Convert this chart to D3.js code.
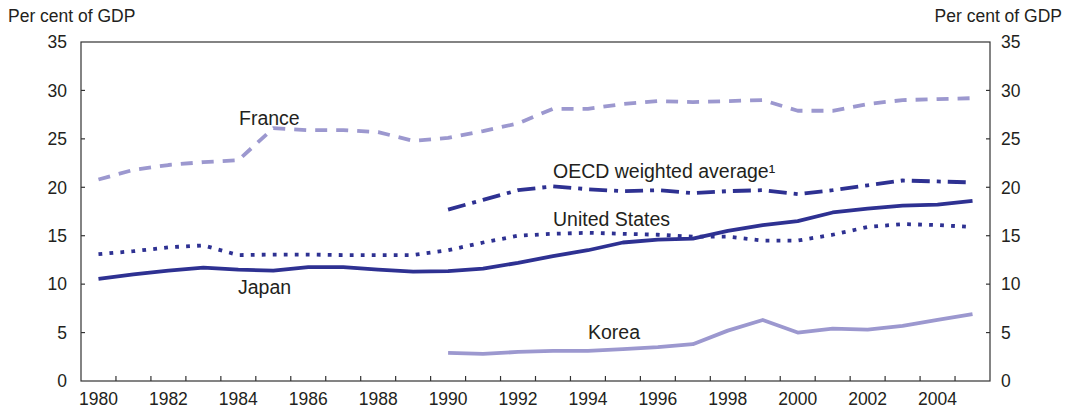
<!DOCTYPE html>
<html>
<head>
<meta charset="utf-8">
<script src="https://cdn.jsdelivr.net/npm/d3@7"></script>
<style>
  html, body { margin: 0; padding: 0; background: #fff; }
  svg { display: block; font-family: "Liberation Sans", Arial, Helvetica, sans-serif; }
</style>
</head>
<body>
<svg id="chart" width="1066" height="409"></svg>
<script>
const years = d3.range(1980, 2006);
const yTicks = [0, 5, 10, 15, 20, 25, 30, 35];
const xTickLabels = ["1980","1982","1984","1986","1988","1990","1992","1994","1996","1998","2000","2002","2004"];

const france = [20.8,21.8,22.3,22.6,22.8,26.1,25.9,25.9,25.7,24.8,25.1,25.8,26.6,28.1,28.1,28.6,28.9,28.8,28.9,29.0,27.9,27.9,28.6,29.0,29.1,29.2];
const japan  = [10.55,11.0,11.4,11.7,11.5,11.4,11.75,11.75,11.5,11.3,11.35,11.6,12.2,12.9,13.5,14.3,14.6,14.7,15.5,16.1,16.5,17.4,17.8,18.1,18.2,18.6];
const unitedStates = [13.1,13.4,13.8,14.0,13.0,13.05,13.05,13.0,13.0,13.0,13.5,14.3,15.0,15.2,15.3,15.2,15.1,14.9,14.9,14.5,14.5,15.1,15.9,16.2,16.1,15.9];
const oecdYears = d3.range(1990, 2006);
const oecd = [17.7,18.7,19.7,20.1,19.8,19.6,19.7,19.4,19.6,19.7,19.3,19.7,20.2,20.7,20.6,20.5];
const koreaYears = d3.range(1990, 2006);
const korea = [2.9,2.8,3.0,3.1,3.1,3.3,3.5,3.8,5.2,6.3,5.0,5.4,5.3,5.7,6.3,6.9];

const DARK = "#2e3192", LIGHT = "#9c98cf", TEXT = "#231f20", AXIS = "#333";

const svg = d3.select("#chart");
const L = 81, R = 990, T = 42, B = 381;

const x = d3.scaleBand().domain(years).range([L, R]).padding(0);
const y = d3.scaleLinear().domain([0, 35]).range([B, T]);
const cx = yr => x(yr) + x.bandwidth() / 2;

// frame
svg.append("rect").attr("x", L).attr("y", T).attr("width", R - L).attr("height", B - T)
  .attr("fill", "none").attr("stroke", AXIS).attr("stroke-width", 1.2);

// x ticks at band boundaries (inward)
years.slice(1).forEach(yr => {
  svg.append("line").attr("x1", x(yr)).attr("x2", x(yr)).attr("y1", B).attr("y2", B - 5)
    .attr("stroke", AXIS).attr("stroke-width", 1.2);
});
// y ticks inward both sides
yTicks.filter(v => v > 0 && v < 35).forEach(v => {
  svg.append("line").attr("x1", L).attr("x2", L + 4).attr("y1", y(v)).attr("y2", y(v))
    .attr("stroke", AXIS).attr("stroke-width", 1.2);
  svg.append("line").attr("x1", R).attr("x2", R - 4).attr("y1", y(v)).attr("y2", y(v))
    .attr("stroke", AXIS).attr("stroke-width", 1.2);
});

// y labels
yTicks.forEach(v => {
  svg.append("text").attr("x", 67).attr("y", y(v)).attr("dy", "0.36em")
    .attr("text-anchor", "end").attr("font-size", 17.5).attr("fill", TEXT).text(v);
  svg.append("text").attr("x", 1001).attr("y", y(v)).attr("dy", "0.36em")
    .attr("text-anchor", "start").attr("font-size", 17.5).attr("fill", TEXT).text(v);
});
// x labels
xTickLabels.forEach(lbl => {
  svg.append("text").attr("x", cx(+lbl)).attr("y", 405)
    .attr("text-anchor", "middle").attr("font-size", 17.5).attr("fill", TEXT).text(lbl);
});

// units
svg.append("text").attr("x", 8).attr("y", 22).attr("font-size", 17.5).attr("fill", TEXT).text("Per cent of GDP");
svg.append("text").attr("x", 1062).attr("y", 22).attr("text-anchor", "end").attr("font-size", 17.5).attr("fill", TEXT).text("Per cent of GDP");

const line = d3.line().x(d => cx(d[0])).y(d => y(d[1]));
function draw(ys, vals, color, dash) {
  svg.append("path").datum(ys.map((yr, i) => [yr, vals[i]]))
    .attr("d", line).attr("fill", "none").attr("stroke", color)
    .attr("stroke-width", 3.8).attr("stroke-linejoin", "round")
    .attr("stroke-dasharray", dash || null);
}
draw(koreaYears, korea, LIGHT);
draw(years, france, LIGHT, "12,9");
draw(years, unitedStates, DARK, "3.8,7.2");
draw(years, japan, DARK);
draw(oecdYears, oecd, DARK, "18,7,4,7");

// series labels
const lab = (t, xx, yy) => svg.append("text").attr("x", xx).attr("y", yy)
  .attr("font-size", 19.5).attr("fill", TEXT).text(t);
lab("France", 239, 125);
lab("Japan", 238, 294);
lab("OECD weighted average¹", 553, 178);
lab("United States", 553, 226);
lab("Korea", 588, 339);
</script>
</body>
</html>
